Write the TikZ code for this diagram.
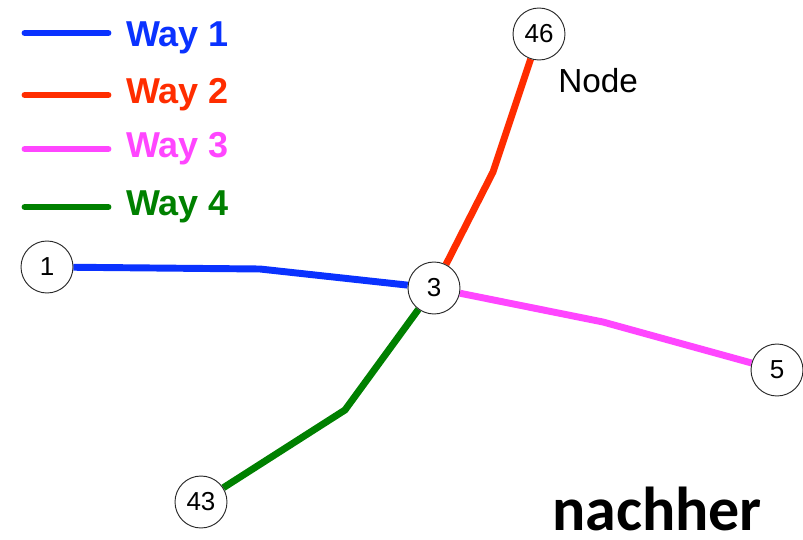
\documentclass[tikz,border=0pt]{standalone}
\usepackage{fontspec}
\setmainfont{Liberation Sans}
\newfontfamily\calibrifont{Carlito}
\usetikzlibrary{backgrounds}
\definecolor{wayblue}{RGB}{10,50,255}
\definecolor{wayred}{RGB}{255,45,0}
\definecolor{waymagenta}{RGB}{255,70,255}
\definecolor{waygreen}{RGB}{0,128,0}
\definecolor{rimgray}{RGB}{40,40,40}
\begin{document}
\begin{tikzpicture}[x=0.75pt,y=-0.75pt,
  osmnode/.style={circle,draw=rimgray,line width=0.7pt,fill=white,
    minimum size=39pt,inner sep=0pt,font=\fontsize{19.5}{20}\selectfont},
  wayline/.style={line width=5.2pt,line join=round},
  legline/.style={line width=5.2pt,line cap=round},
  legtext/.style={anchor=base west,inner sep=0pt,font=\fontsize{27}{29}\selectfont\bfseries}]
\useasboundingbox (0,0) rectangle (803,539);

% nodes of the ways
\node[osmnode] (n1)  at (47,267)  {1};
\node[osmnode] (n3)  at (434,288) {3};
\node[osmnode] (n46) at (539,34)  {46};
\node[osmnode] (n5)  at (777,370) {5};
\node[osmnode] (n43) at (201,502) {43};

% intermediate shape points
\coordinate (b1) at (260,269);
\coordinate (b2) at (493,172);
\coordinate (b3) at (603,322);
\coordinate (b4) at (345,410);

% the four ways, kept behind the node circles
\begin{pgfonlayer}{background}
\draw[wayline,wayblue]    (n1) -- (b1) -- (n3);
\draw[wayline,wayred]     (n3) -- (b2) -- (n46);
\draw[wayline,waymagenta] (n3) -- (b3) -- (n5);
\draw[wayline,waygreen]   (n3) -- (b4) -- (n43);
\end{pgfonlayer}

% legend
\coordinate (l1a) at (25,33);  \coordinate (l1b) at (108,33);
\coordinate (l2a) at (25,95);  \coordinate (l2b) at (108,95);
\coordinate (l3a) at (25,149); \coordinate (l3b) at (108,149);
\coordinate (l4a) at (25,207); \coordinate (l4b) at (108,207);
\draw[legline,wayblue]    (l1a) -- (l1b);
\draw[legline,wayred]     (l2a) -- (l2b);
\draw[legline,waymagenta] (l3a) -- (l3b);
\draw[legline,waygreen]   (l4a) -- (l4b);
\node[legtext,text=wayblue]    (t1) at (126,46)  {Way 1};
\node[legtext,text=wayred]     (t2) at (126,103) {Way 2};
\node[legtext,text=waymagenta] (t3) at (126,157) {Way 3};
\node[legtext,text=waygreen]   (t4) at (126,215) {Way 4};

% labels
\node[anchor=base west,inner sep=0pt,font=\fontsize{25}{26}\selectfont] (lbl) at (558,92) {Node};
\node[anchor=base west,inner sep=0pt,text depth=0pt,
  font=\calibrifont\fontsize{46.5}{47}\selectfont\bfseries] (cap) at (552,530) {nachher};
\end{tikzpicture}
\end{document}
